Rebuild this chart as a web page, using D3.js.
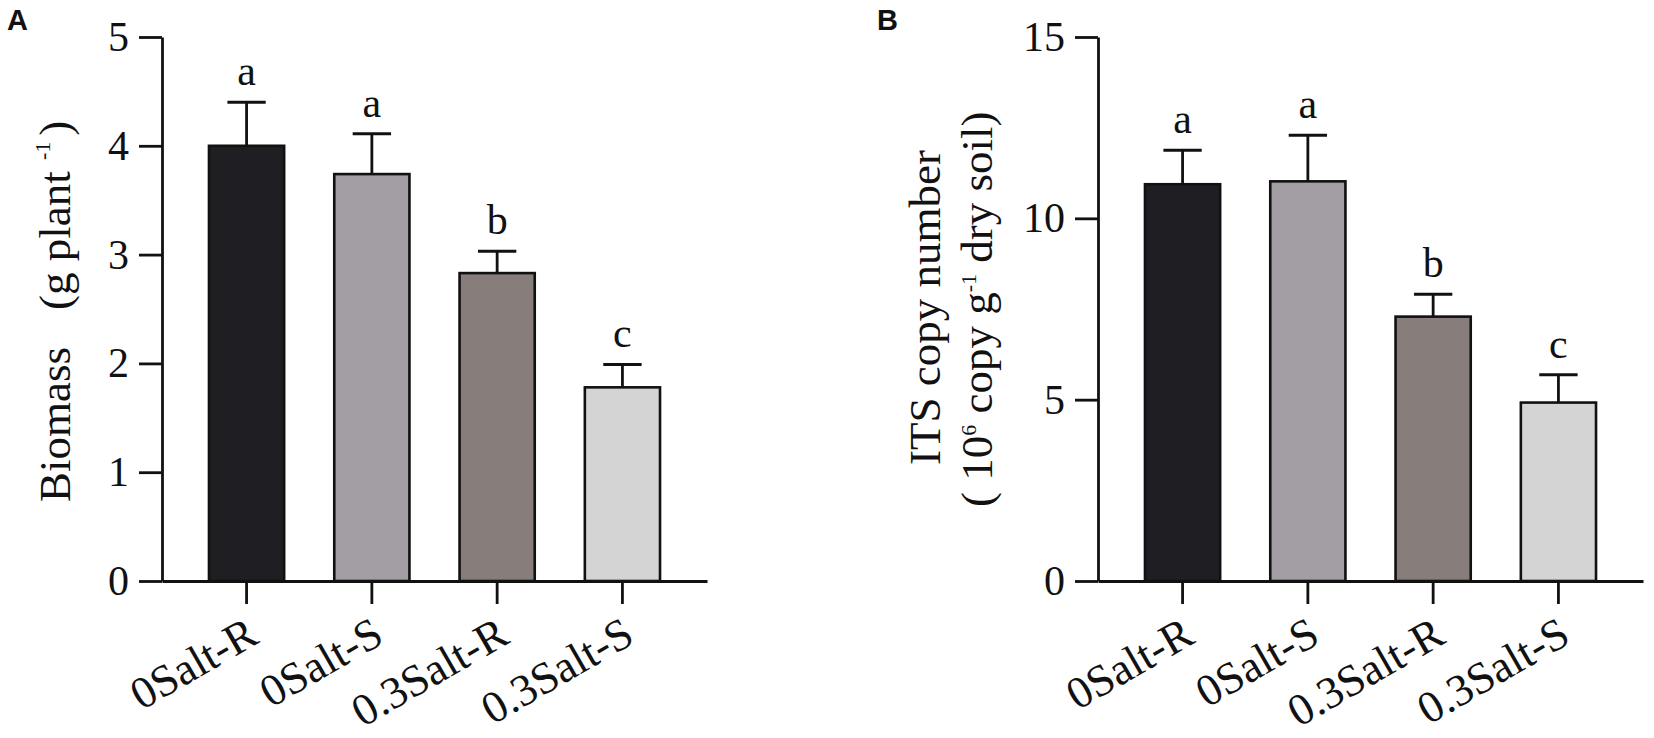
<!DOCTYPE html>
<html>
<head>
<meta charset="utf-8">
<script src="https://cdn.jsdelivr.net/npm/d3@7"></script>
<style>
  html, body { margin: 0; padding: 0; background: #fff; }
  svg { display: block; }
</style>
</head>
<body>
<svg id="chart" width="1654" height="738"></svg>
<script>
// ---- data ----
const categories = ["0Salt-R", "0Salt-S", "0.3Salt-R", "0.3Salt-S"];
const biomass = [4.00, 3.74, 2.83, 1.78];
const biomassErr = [0.40, 0.37, 0.20, 0.21];
const biomassLetters = ["a", "a", "b", "c"];
const itsCopy = [10.94, 11.02, 7.29, 4.92];
const itsErr = [0.94, 1.27, 0.62, 0.77];
const itsLetters = ["a", "a", "b", "c"];
const biomassTicks = [0, 1, 2, 3, 4, 5];
const itsTicks = [0, 5, 10, 15];
const barColors = ["#1f1e22", "#a29ea3", "#877e7c", "#d4d4d4"];

const serif = "'Liberation Serif', 'Times New Roman', serif";
const svg = d3.select("#chart");

function panel(opts) {
  const { x0, values, errs, letters, ticks, yMax, label } = opts;
  const top = 37, bottom = 581, width = 545;
  const g = svg.append("g");

  const x = d3.scaleBand().domain(categories)
    .range([x0, x0 + width]).paddingInner(0.4).paddingOuter(0.375);
  const y = d3.scaleLinear().domain([0, yMax]).range([bottom, top]);

  // bars
  g.selectAll("rect.bar").data(values).join("rect")
    .attr("class", "bar")
    .attr("x", (d, i) => x(categories[i]))
    .attr("width", x.bandwidth())
    .attr("y", d => y(d))
    .attr("height", d => y(0) - y(d))
    .attr("fill", (d, i) => barColors[i])
    .attr("stroke", "#111")
    .attr("stroke-width", 2.6);

  // error bars + letters
  const cx = i => x(categories[i]) + x.bandwidth() / 2;
  const capW = x.bandwidth() * 0.51;
  values.forEach((v, i) => {
    g.append("line")
      .attr("x1", cx(i)).attr("x2", cx(i))
      .attr("y1", y(v)).attr("y2", y(v + errs[i]))
      .attr("stroke", "#111").attr("stroke-width", 2.8);
    g.append("line")
      .attr("x1", cx(i) - capW / 2).attr("x2", cx(i) + capW / 2)
      .attr("y1", y(v + errs[i])).attr("y2", y(v + errs[i]))
      .attr("stroke", "#111").attr("stroke-width", 3);
    g.append("text")
      .attr("x", cx(i)).attr("y", y(v + errs[i]) - 17)
      .attr("text-anchor", "middle")
      .attr("font-family", serif).attr("font-size", 42)
      .attr("fill", "#111")
      .text(letters[i]);
  });

  // y axis
  const yAxis = g.append("g")
    .attr("transform", `translate(${x0},0)`)
    .call(d3.axisLeft(y).tickValues(ticks).tickFormat(d3.format("d"))
      .tickSize(23).tickSizeOuter(0).tickPadding(10));
  yAxis.select(".domain").attr("stroke", "#111").attr("stroke-width", 2.8);
  yAxis.selectAll(".tick line").attr("stroke", "#111").attr("stroke-width", 2.8);
  yAxis.selectAll(".tick text")
    .attr("font-family", serif).attr("font-size", 42).attr("fill", "#111");

  // x axis
  const xAxis = g.append("g")
    .attr("transform", `translate(0,${bottom})`)
    .call(d3.axisBottom(x).tickSize(23).tickSizeOuter(0));
  xAxis.select(".domain").attr("stroke", "#111").attr("stroke-width", 2.8);
  xAxis.selectAll(".tick line").attr("stroke", "#111").attr("stroke-width", 2.8);
  xAxis.selectAll(".tick text")
    .attr("font-family", serif).attr("font-size", 45).attr("fill", "#111")
    .attr("x", 0).attr("y", 0).attr("dy", 0)
    .attr("text-anchor", "end")
    .attr("transform", "translate(14,61) rotate(-30)");

  label(g);
}

// Panel A
panel({
  x0: 162, values: biomass, errs: biomassErr, letters: biomassLetters,
  ticks: biomassTicks, yMax: 5,
  label: (g) => {
    const t = g.append("text")
      .attr("transform", "translate(70,502) rotate(-90)")
      .attr("text-anchor", "start")
      .attr("font-family", serif).attr("font-size", 45).attr("fill", "#111");
    t.append("tspan").text("Biomass");
    t.append("tspan").attr("dx", 37).text("(g plant ");
    t.append("tspan").attr("font-size", 22).attr("dy", -20).text("-1");
    t.append("tspan").attr("dy", 20).attr("dx", 6).text(")");
  }
});

// Panel B
panel({
  x0: 1098, values: itsCopy, errs: itsErr, letters: itsLetters,
  ticks: itsTicks, yMax: 15,
  label: (g) => {
    g.append("text")
      .attr("transform", "translate(940,465) rotate(-90)")
      .attr("text-anchor", "start")
      .attr("font-family", serif).attr("font-size", 45).attr("fill", "#111")
      .text("ITS copy number");
    const t = g.append("text")
      .attr("transform", "translate(992,507) rotate(-90)")
      .attr("text-anchor", "start")
      .attr("font-family", serif).attr("font-size", 45).attr("fill", "#111");
    t.append("tspan").text("( 10");
    t.append("tspan").attr("font-size", 22).attr("dy", -16).text("6");
    t.append("tspan").attr("dy", 16).text(" copy g");
    t.append("tspan").attr("font-size", 22).attr("dy", -16).text("-1");
    t.append("tspan").attr("dy", 16).text(" dry soil)");
  }
});

// panel letters
svg.append("text").attr("x", 7).attr("y", 30)
  .attr("font-family", "'Liberation Sans', Arial, sans-serif")
  .attr("font-weight", "bold").attr("font-size", 29).attr("fill", "#111").text("A");
svg.append("text").attr("x", 877).attr("y", 30)
  .attr("font-family", "'Liberation Sans', Arial, sans-serif")
  .attr("font-weight", "bold").attr("font-size", 29).attr("fill", "#111").text("B");
</script>
</body>
</html>
